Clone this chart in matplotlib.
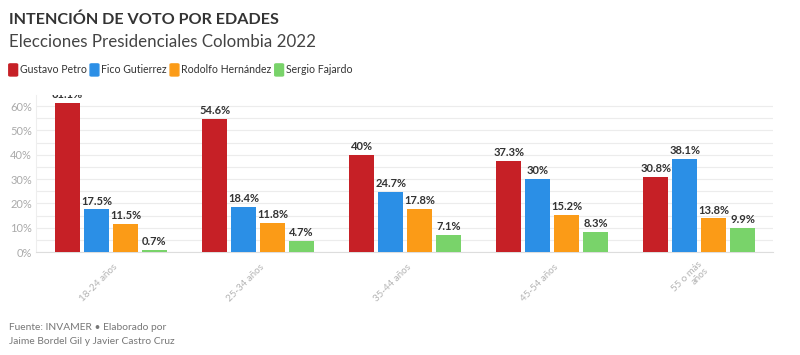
import matplotlib.pyplot as plt
import matplotlib.transforms as mtransforms
import numpy as np
from matplotlib.patches import FancyBboxPatch

plt.rcParams['font.family'] = ['Lato', 'DejaVu Sans']

# datos
grupos = ['18-24 años', '25-34 años', '35-44 años', '45-54 años', '55 o más\naños']
candidatos = ['Gustavo Petro', 'Fico Gutierrez', 'Rodolfo Hernández', 'Sergio Fajardo']
colores = ['#c62026', '#2b8fe6', '#fb9b17', '#79d36a']
petro = [61.1, 54.6, 40, 37.3, 30.8]
fico = [17.5, 18.4, 24.7, 30, 38.1]
rodolfo = [11.5, 11.8, 17.8, 15.2, 13.8]
fajardo = [0.7, 4.7, 7.1, 8.3, 9.9]
series = [petro, fico, rodolfo, fajardo]

fig = plt.figure(figsize=(8, 3.55), dpi=100)
ax = fig.add_axes([0.045, 0.29, 0.921, 0.442])

x = np.arange(len(grupos))
ancho = 0.17
paso = 0.197
for i, (vals, col) in enumerate(zip(series, colores)):
    pos = x + (i - 1.5) * paso
    ax.bar(pos, vals, width=ancho, color=col, zorder=3)
    for p, v in zip(pos, vals):
        ax.text(p, v + 1.2, f'{v:g}%', ha='center', va='bottom', fontsize=8,
                fontweight='bold', color='#333333', clip_on=True, zorder=4)

ax.set_xlim(-0.51, 4.5)
ax.set_ylim(0, 64.5)
ax.set_yticks(range(0, 61, 10))
ax.set_yticks(range(5, 61, 10), minor=True)
ax.set_yticklabels([f'{t}%' for t in range(0, 61, 10)], fontsize=8, color='#aaaaaa')
ax.tick_params(axis='y', which='both', length=0, pad=3)
ax.grid(axis='y', which='both', color='#ececec', linewidth=0.8, zorder=0)
ax.set_xticks(x)
ax.set_xticklabels(grupos, rotation=45, fontsize=7, color='#b3b3b3', ha='right',
                   va='center', rotation_mode='anchor', linespacing=1.0)
ax.tick_params(axis='x', length=0, pad=10)
# mover etiquetas un poco a la derecha
desplaza = mtransforms.ScaledTranslation(0.05, 0, fig.dpi_scale_trans)
for lbl in ax.get_xticklabels():
    lbl.set_transform(lbl.get_transform() + desplaza)
for s in ['top', 'right']:
    ax.spines[s].set_visible(False)
ax.spines['left'].set_color('#eeeeee')
ax.spines['bottom'].set_color('#dddddd')

# titulos
fig.text(0.011, 0.945, 'INTENCIÓN DE VOTO POR EDADES', fontsize=11.6, fontweight='bold',
         color='#333333', va='center')
fig.text(0.011, 0.882, 'Elecciones Presidenciales Colombia 2022', fontsize=12.2,
         color='#444444', va='center')

# leyenda
lx = 0.011
ly = 0.803
for nombre, col in zip(candidatos, colores):
    fig.patches.append(FancyBboxPatch((lx, ly - 0.017), 0.011, 0.034,
                                      boxstyle='round,pad=0,rounding_size=0.002',
                                      transform=fig.transFigure, color=col))
    t = fig.text(lx + 0.014, ly, nombre, fontsize=7.6, color='#333333', va='center')
    fig.canvas.draw()
    bb = t.get_window_extent()
    lx = bb.x1 / 800 + 0.004

fig.text(0.011, 0.058, 'Fuente: INVAMER • Elaborado por\nJaime Bordel Gil y Javier Castro Cruz',
         fontsize=7.4, color='#777777', va='center', linespacing=1.7)

fig.savefig('out.png', dpi=100)
